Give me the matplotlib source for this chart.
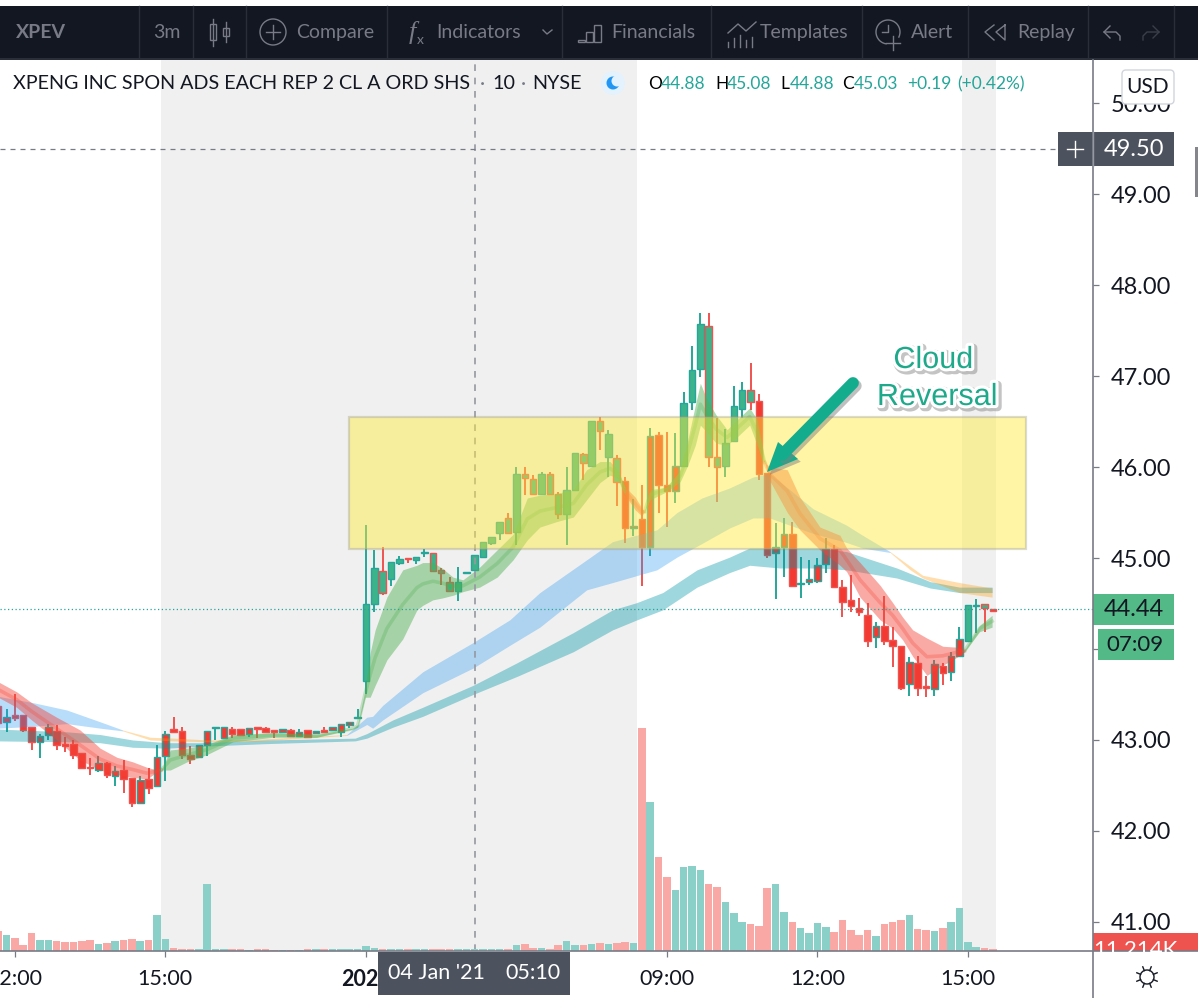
import matplotlib
matplotlib.use("Agg")
import matplotlib.pyplot as plt
import matplotlib.patheffects as pe
from matplotlib.patches import Rectangle, Circle, FancyBboxPatch, Polygon
import numpy as np

plt.rcParams['font.family'] = ['Lato', 'DejaVu Sans']

# candles, one per 10 minutes
opens = [43.37,43.20,43.27,43.27,43.14,42.98,43.06,43.10,42.96,42.96,42.86,42.70,42.67,42.75,42.60,42.67,42.58,42.31,42.57,42.49,
         42.82,43.12,43.10,42.84,42.81,42.94,43.13,43.02,43.12,43.12,43.07,43.14,43.13,43.10,43.09,43.11,43.04,43.11,43.08,43.11,
         43.11,43.09,43.17,43.24,43.65,44.49,44.86,44.77,44.95,45.00,44.98,45.05,45.06,44.87,44.74,44.64,44.83,44.87,45.01,45.17,
         45.27,45.44,45.29,45.92,45.87,45.70,45.92,45.70,45.48,45.75,46.14,46.01,46.51,46.11,46.10,45.85,45.33,45.43,45.12,46.35,
         45.80,45.74,46.01,46.71,47.08,47.55,46.11,46.01,46.29,46.64,46.85,46.73,45.93,45.06,45.12,45.26,44.71,44.74,44.75,44.93,
         45.10,44.68,44.54,44.45,44.37,44.13,44.25,44.10,44.03,43.62,43.85,43.59,43.56,43.81,43.75,43.92,44.09,44.47,44.49,44.44]
highs = [43.40,43.34,43.50,43.28,43.14,43.07,43.18,43.17,43.03,43.00,42.86,42.80,42.82,42.76,42.71,42.78,42.58,42.60,42.69,42.94,
         43.10,43.25,43.14,42.93,42.94,43.10,43.14,43.14,43.14,43.12,43.13,43.14,43.14,43.10,43.12,43.12,43.12,43.11,43.10,43.14,
         43.14,43.18,43.20,43.34,45.36,45.09,45.12,44.96,45.02,45.00,45.01,45.10,45.06,44.89,44.79,44.90,44.84,45.03,45.18,45.23,
         45.40,45.49,46.00,46.00,45.91,45.95,45.95,45.73,46.00,46.15,46.15,46.51,46.55,46.41,46.13,45.89,45.65,45.80,46.43,46.38,
         46.38,46.37,46.82,47.33,47.69,47.69,46.54,46.42,46.89,46.93,47.14,46.80,45.93,45.38,45.44,45.40,45.01,44.98,45.00,45.22,
         45.14,44.76,44.81,44.56,44.50,44.30,44.58,44.24,44.03,43.91,43.92,43.70,43.88,43.85,43.97,44.24,44.48,44.55,44.49,44.44]
lows = [43.18,43.09,43.21,43.09,42.89,42.80,43.00,42.89,42.87,42.79,42.69,42.61,42.65,42.58,42.49,42.42,42.26,42.31,42.41,42.49,
        42.55,43.09,42.79,42.74,42.81,42.82,43.00,43.01,43.02,43.05,43.03,43.02,43.09,43.02,43.09,43.04,43.04,43.02,43.07,43.08,
        43.11,43.03,43.13,43.24,43.50,44.41,44.59,44.69,44.92,44.95,44.93,45.01,44.86,44.70,44.63,44.53,44.83,44.87,45.01,45.14,
        45.20,45.27,45.14,45.69,45.70,45.70,45.70,45.43,45.14,45.75,45.86,46.01,46.19,45.89,45.57,45.17,45.24,44.69,45.02,45.50,
        45.34,45.60,46.01,46.63,46.99,46.00,45.62,45.89,46.29,46.54,46.63,45.86,45.00,44.55,44.79,44.68,44.56,44.70,44.73,44.84,
        44.67,44.35,44.41,44.36,44.02,44.01,44.04,43.80,43.55,43.48,43.48,43.47,43.48,43.60,43.65,43.92,44.09,44.18,44.19,44.41]
closes = [43.19,43.25,43.24,43.11,42.98,43.04,43.14,42.94,42.93,42.84,42.69,42.69,42.75,42.61,42.66,42.57,42.31,42.56,42.47,42.81,
          43.07,43.09,42.84,42.79,42.94,43.10,43.14,43.14,43.07,43.05,43.13,43.12,43.09,43.09,43.12,43.04,43.09,43.03,43.09,43.09,
          43.14,43.18,43.20,43.25,44.49,44.89,44.62,44.96,44.99,44.99,45.01,45.06,44.86,44.84,44.64,44.74,44.84,45.03,45.18,45.23,
          45.40,45.27,45.92,45.88,45.70,45.92,45.70,45.48,45.75,46.15,46.04,46.51,46.40,46.36,45.84,45.33,45.35,45.12,46.34,45.80,
          45.74,46.01,46.70,47.07,47.57,46.11,46.00,46.26,46.67,46.85,46.71,45.92,45.03,45.12,45.26,44.69,44.73,44.77,44.92,45.10,
          44.68,44.52,44.47,44.41,44.09,44.25,44.09,44.03,43.57,43.86,43.57,43.57,43.84,43.74,43.92,44.11,44.48,44.48,44.45,44.42]
# bars where the fill switches between red and green trend colours
fill_flips = [43, 75, 82, 91, 116, 119]

# volume in thousands
volumes = [100,80,65,30,90,55,55,50,45,45,50,55,35,40,50,55,60,50,55,180,60,
           15,10,10,10,335,10,10,10,8,5,10,10,5,5,5,5,10,8,8,8,10,10,8,25,15,
           8,10,10,10,8,10,8,8,8,10,8,8,8,8,8,8,
           30,35,15,15,10,30,50,30,30,35,40,
           35,40,45,40,1115,745,470,370,305,420,425,405,335,320,245,190,145,135,125,315,335,195,145,115,90,
           140,120,95,155,105,80,105,75,135,145,155,180,110,105,100,115,145,215,45,20,15,11]

# fast cloud, red then green at each flip
fast_x = [0,2.2,4.0,7.0,9.8,12.2,14.2,16.1,17.8,19.0,19.5,20.6,22.6,25.0,28.1,32.9,38.1,42.4,43.0,43.9,44.5,45.1,46.5,48.4,
          50.1,50.8,52.0,53.1,54.4,55.6,57.6,59.7,61.6,63.3,64.8,66.8,68.8,70.4,72.0,73.2,74.1,75.0,76.2,77.0,77.3,78.0,80.0,
          81.6,82.5,83.4,84.0,84.8,85.9,87.2,88.4,89.9,90.8,91.4,91.7,92.3,94.4,95.9,98.3,100.7,101.5,103.1,105.5,107.0,108.2,
          109.4,111.1,113.0,114.7,115.6,117.4,118.9]
fast_hi = [43.64,43.53,43.41,43.25,43.11,42.91,42.81,42.76,42.70,42.67,42.67,42.89,42.91,42.95,43.06,43.08,43.06,43.13,43.17,43.55,
           43.96,44.21,44.57,44.87,44.92,44.95,44.95,44.89,44.79,44.76,44.90,45.09,45.26,45.66,45.69,45.71,45.75,45.97,46.06,46.06,
           45.97,45.78,45.67,45.55,45.51,45.75,45.78,45.97,46.30,46.68,46.92,46.74,46.57,46.41,46.52,46.65,46.52,46.24,46.05,46.00,
           45.97,45.67,45.34,45.25,45.11,44.95,44.70,44.51,44.35,44.21,44.12,44.03,44.02,43.99,44.26,44.37]
fast_lo = [43.47,43.36,43.22,43.00,42.78,42.67,42.62,42.59,42.57,42.65,42.67,42.67,42.76,42.84,42.98,43.03,43.03,43.12,43.14,43.47,
           43.47,43.60,43.88,44.11,44.43,44.48,44.54,44.56,44.59,44.63,44.68,44.79,44.98,45.20,45.34,45.40,45.45,45.64,45.83,45.91,
           45.88,45.69,45.53,45.46,45.51,45.64,45.73,45.84,46.02,46.24,46.46,46.38,46.26,46.24,46.33,46.46,46.24,46.08,46.05,45.85,
           45.50,45.31,45.09,44.92,44.85,44.57,44.32,44.23,44.10,43.92,43.71,43.82,43.91,43.97,44.19,44.24]
fast_flips = [19.5, 75.0, 77.3, 91.7, 115.6]

# middle cloud, blue then orange at each flip
mid_x = [0,4.2,8.2,12.2,14.9,18.2,21.1,25.1,31.3,41.7,44.1,44.8,46.0,50.8,56.8,61.2,64.8,70.4,73.5,78.8,81.2,84.2,87.5,90.3,
         92.3,94.7,97.5,101.5,103.4,106.7,109.1,110.6,115.0,118.9]
mid_hi = [43.48,43.41,43.33,43.20,43.11,43.03,43.02,43.00,43.01,43.06,43.25,43.26,43.38,43.75,44.07,44.32,44.62,44.98,45.18,45.31,
          45.50,45.66,45.77,45.89,45.93,45.75,45.54,45.36,45.25,45.07,44.91,44.81,44.73,44.67]
mid_lo = [43.13,43.15,43.18,43.13,43.10,43.00,42.99,42.98,42.99,43.05,43.17,43.13,43.22,43.52,43.79,44.04,44.24,44.65,44.73,44.87,
          45.01,45.16,45.33,45.44,45.44,45.36,45.27,45.17,45.11,45.06,44.87,44.78,44.62,44.57]
mid_flips = [14.9, 41.7, 106.7]

# slow teal cloud
slow_x = [0,8.2,12.2,16.1,20.2,24.1,32.1,42.7,44.1,47.2,50.8,56.8,62.1,68.8,73.5,76.4,79.5,83.6,87.5,89.9,93.5,98.3,101.5,107.5,
          111.5,115.0,118.9]
slow_hi = [43.12,43.09,43.06,43.00,42.97,42.97,43.00,43.02,43.07,43.22,43.36,43.60,43.85,44.18,44.43,44.51,44.62,44.87,45.01,45.11,
           45.11,45.11,45.07,44.89,44.74,44.68,44.68]
slow_lo = [42.99,42.98,42.97,42.92,42.91,42.93,42.96,42.99,43.02,43.14,43.26,43.50,43.70,43.97,44.21,44.32,44.43,44.68,44.84,44.92,
           44.89,44.89,44.87,44.78,44.67,44.62,44.62]

price_ticks = [41, 42, 43, 44, 45, 46, 47, 48, 49, 50]
# the 44.00 label sits behind the countdown box in the picture
price_labels = ['41.00', '42.00', '43.00', '', '45.00', '46.00', '47.00', '48.00', '49.00', '50.00']
time_ticks = [2, 20, 44, 80, 98, 116]
time_labels = ['12:00', '15:00', '2021', '09:00', '12:00', '15:00']
sessions = [(19.45, 76.4), (115.3, 119.4)]
zone = (42, 123, 45.10, 46.55)
crosshair = (57, 49.50)
last_price = 44.44

GREEN = '#3db38b'
RED = '#f23a32'
UP_EDGE = '#26a69a'
DOWN_EDGE = '#ef5350'
TEAL_TEXT = '#26a69a'
TOOL = '#787b86'
DARK = '#131722'
LABEL = '#4c525e'

W, H = 1198, 998
fig = plt.figure(figsize=(W / 100, H / 100), dpi=100, facecolor='white')
pos = [0, (H - 951) / H, 1092.5 / W, (951 - 60) / H]
ax = fig.add_axes(pos, zorder=1)
ax.set_xlim(0.222, 130.91)
ax.set_ylim(40.681, 50.473)
for s in ax.spines.values():
    s.set_visible(False)

for a, b in sessions:
    ax.axvspan(a, b, color='#f0f0f0', lw=0, zorder=0)

x = np.arange(len(closes))
opens, highs, lows, closes = map(np.array, (opens, highs, lows, closes))
up = closes >= opens

# trend colour for the body
fill_up = np.zeros(len(x), dtype=bool)
state = False
last = 0
for f in fill_flips + [len(x)]:
    fill_up[last:f] = state
    state = not state
    last = f

edge = [UP_EDGE if u else DOWN_EDGE for u in up]
ax.vlines(x, lows, highs, colors=edge, lw=1.4, zorder=2)
ax.bar(x, np.maximum(np.abs(closes - opens), 0.015), bottom=np.minimum(opens, closes), width=0.78,
       color=[GREEN if f else RED for f in fill_up], edgecolor=edge, lw=1.0, zorder=2.1)


def cloud(xs, hi, lo, flips, colors, alpha, center=False):
    xs, hi, lo = np.array(xs), np.array(hi), np.array(lo)
    edges = [xs[0]] + flips + [xs[-1]]
    for k in range(len(edges) - 1):
        m = (xs >= edges[k]) & (xs <= edges[k + 1])
        c = colors[k % 2]
        ax.fill_between(xs[m], lo[m], hi[m], color=c, alpha=alpha, lw=0, zorder=3)
        if center:
            ax.plot(xs[m], (hi[m] + lo[m]) / 2, color=c, alpha=0.28, lw=2.6, zorder=4)


cloud(slow_x, slow_hi, slow_lo, [], ['#0097a7'], 0.38)
cloud(mid_x, mid_hi, mid_lo, mid_flips, ['#2196f3', '#ff9800'], 0.32)
cloud(fast_x, fast_hi, fast_lo, fast_flips, ['#f44336', '#4caf50'], 0.45, center=True)

ax.add_patch(Rectangle((zone[0], zone[2]), zone[1] - zone[0], zone[3] - zone[2], facecolor=(1, 0.92, 0.23, 0.46),
                       edgecolor=(0.6, 0.6, 0.55, 0.35), lw=1.6, zorder=6))

ax.axvline(crosshair[0], color='#9598a1', lw=1.2, ls=(0, (4, 4)), zorder=5)
ax.axhline(crosshair[1], color='#787b86', lw=0.9, ls=(0, (4, 4)), zorder=5)
ax.axhline(last_price, color=UP_EDGE, lw=0.9, ls=(0, (1, 2)), zorder=5)

ax.yaxis.tick_right()
ax.set_yticks(price_ticks)
ax.set_yticklabels(price_labels, fontsize=17, color='#131722')
ax.set_xticks(time_ticks)
ax.set_xticklabels(time_labels, fontsize=15.5, color='#131722')
ax.get_xticklabels()[2].set_fontweight('bold')
ax.tick_params(axis='y', length=4, width=0.9, color='#787b86', pad=9)
ax.tick_params(axis='x', length=4, width=0.9, color='#787b86', pad=9)

# volume on its own scale at the bottom
ax_vol = fig.add_axes(pos, sharex=ax, zorder=2, frameon=False)
ax_vol.set_ylim(0, 4455)
ax_vol.bar(x, volumes, width=0.9, color=['#8bd0c8' if u else '#f9a8a6' for u in up], lw=0)
ax_vol.axis('off')

# toolbar, price labels and annotation in pixels on top
top = fig.add_axes([0, 0, 1, 1], zorder=5, frameon=False)
top.set_xlim(0, W)
top.set_ylim(H, 0)
top.axis('off')

top.add_patch(Rectangle((0, 6), W, 53, color=DARK, lw=0))
top.add_patch(Rectangle((0, 58), W, 2, color='#2a2e39', lw=0))
for sx in [139, 193, 246, 387, 562, 711, 862, 968, 1088, 1174]:
    top.plot([sx, sx], [6, 58], color='#2a2e39', lw=1)

for tx, s, w in [(16, 'XPEV', 'bold'), (153, '3m', 'normal'), (296, 'Compare', 'normal'), (436, 'Indicators', 'normal'),
                 (611, 'Financials', 'normal'), (760, 'Templates', 'normal'), (911, 'Alert', 'normal'), (1017, 'Replay', 'normal')]:
    top.text(tx, 32, s, color=TOOL, fontsize=14, fontweight=w, va='center', ha='left')

# toolbar icons
top.plot([213, 213], [19, 46], color=TOOL, lw=1)
top.add_patch(Rectangle((210, 24), 6, 16, fc=DARK, ec=TOOL, lw=1))
top.plot([226, 226], [22, 42], color=TOOL, lw=1)
top.add_patch(Rectangle((223, 28), 6, 8, fc=DARK, ec=TOOL, lw=1))
top.add_patch(Circle((273, 32), 13, fc='none', ec=TOOL, lw=1))
top.plot([266, 280], [32, 32], color=TOOL, lw=1)
top.plot([273, 273], [25, 39], color=TOOL, lw=1)
top.text(412, 32, 'f', color=TOOL, fontsize=19, style='italic', family='Liberation Serif', va='center', ha='center')
top.text(420, 40, 'x', color=TOOL, fontsize=10, va='center', ha='center')
top.plot([543, 547, 552], [30, 34, 30], color=TOOL, lw=1)
for bx, by in [(578, 40), (586, 32), (594, 25)]:
    top.add_patch(Rectangle((bx, by), 7, 42 - by, fc='none', ec=TOOL, lw=1))
top.plot([728, 738, 746, 756], [33, 24, 31, 22], color=TOOL, lw=1)
for bx, by in [(728, 42), (734, 38), (740, 35), (746, 40), (752, 37)]:
    top.plot([bx, bx], [by, 47], color=TOOL, lw=1)
top.add_patch(Circle((888, 32), 12, fc='none', ec=TOOL, lw=1))
top.add_patch(Circle((893, 42), 7, fc=DARK, ec='none'))
top.plot([893, 893], [36, 50], color=TOOL, lw=1)
top.plot([886, 900], [43, 43], color=TOOL, lw=1)
top.plot([888, 888, 882], [25, 32, 32], color=TOOL, lw=1)
top.plot([994, 985, 994], [25, 32, 40], color=TOOL, lw=1)
top.plot([1005, 996, 1005, 1005], [25, 32, 40, 25], color=TOOL, lw=1)
top.plot([1110, 1104, 1110], [26, 32, 38], color=TOOL, lw=1)
top.plot([1104, 1116, 1120, 1120], [32, 32, 36, 40], color=TOOL, lw=1)
top.plot([1153, 1159, 1153], [26, 32, 38], color='#3a3e49', lw=1)
top.plot([1159, 1147, 1143, 1143], [32, 32, 36, 40], color='#3a3e49', lw=1)

# legend row
top.text(13, 83, 'XPENG INC SPON ADS EACH REP 2 CL A ORD SHS', color='#131722', fontsize=14.2, va='center', ha='left')
top.text(482, 83, '·', color=TOOL, fontsize=14, va='center', ha='center')
top.text(492, 83, '10', color='#131722', fontsize=14.2, va='center', ha='left')
top.text(523, 83, '·', color=TOOL, fontsize=14, va='center', ha='center')
top.text(532, 83, 'NYSE', color='#131722', fontsize=14.2, va='center', ha='left')
top.add_patch(Circle((613, 83), 12, fc='#e3f2fd', ec='none'))
top.add_patch(Circle((613, 83), 6.5, fc='#2196f3', ec='none'))
top.add_patch(Circle((617, 81), 5.5, fc='#e3f2fd', ec='none'))
for tx, s, c in [(648, 'O', 'k'), (661, '44.88', TEAL_TEXT), (715, 'H', 'k'), (727, '45.08', TEAL_TEXT), (780, 'L', 'k'), (790, '44.88', TEAL_TEXT),
                 (842, 'C', 'k'), (854, '45.03', TEAL_TEXT), (907, '+0.19', TEAL_TEXT), (957, '(+0.42%)', TEAL_TEXT)]:
    top.text(tx, 84, s, color=c, fontsize=12.5, va='center', ha='left')

# axis lines
top.plot([1092.5, 1092.5], [60, H], color='#787b86', lw=1.2)
top.plot([0, W], [951, 951], color='#787b86', lw=1.2)

top.add_patch(FancyBboxPatch((1124, 72), 48, 30, boxstyle='round,pad=2,rounding_size=4', fc='white', ec='#d1d4dc', lw=1))
top.text(1148, 87, 'USD', color='#131722', fontsize=15, va='center', ha='center')

top.add_patch(Rectangle((1058, 132), 116, 34, color=LABEL, lw=0))
top.plot([1067, 1083], [149, 149], color='white', lw=1)
top.plot([1075, 1075], [141, 157], color='white', lw=1)
top.plot([1092.5, 1092.5], [132, 166], color='#9598a1', lw=1)
top.text(1134, 149, '49.50', color='white', fontsize=17, va='center', ha='center')

top.add_patch(Rectangle((1093, 594), 81, 31, color='#53b987', lw=0))
top.text(1134, 610, '44.44', color='#131722', fontsize=17, va='center', ha='center')
top.add_patch(Rectangle((1098, 629), 76, 31, color='#53b987', lw=0))
top.text(1135, 645, '07:09', color='#131722', fontsize=16, va='center', ha='center')

red_box = Rectangle((1093, 933), 105, 18, color='#ef5350', lw=0)
top.add_patch(red_box)
vol_label = top.text(1135, 950, '11.214K', color='white', fontsize=16, va='center', ha='center')
vol_label.set_clip_path(red_box)

top.add_patch(Rectangle((1195, 147), 3, 50, color='#85858c', lw=0))

top.add_patch(Rectangle((377.5, 951.5), 192.5, 43.5, color=LABEL, lw=0))
top.text(388, 973, "04 Jan '21", color='white', fontsize=15.5, va='center', ha='left')
top.text(505, 973, '05:10', color='white', fontsize=15.5, va='center', ha='left')

# sun icon
top.add_patch(Circle((1147, 977), 7, fc='none', ec='#131722', lw=1))
for ang in np.arange(0, 360, 45):
    r = np.radians(ang + 22.5)
    top.plot([1147 + 7 * np.cos(r), 1147 + 11 * np.cos(r)], [977 + 7 * np.sin(r), 977 + 11 * np.sin(r)], color='#131722', lw=1)

# arrow and note
shadow = [pe.SimpleLineShadow(offset=(2, -2), shadow_color='#808080', alpha=0.5), pe.Normal()]
top.plot([853, 782], [383, 455], color='#13ac8d', lw=8.5, solid_capstyle='round', path_effects=shadow)
top.add_patch(Polygon([(767, 472), (778, 442), (798, 459)], closed=True, color='#13ac8d', lw=0,
                      path_effects=[pe.SimplePatchShadow(offset=(2, -2), shadow_rgbFace='#808080', alpha=0.5), pe.Normal()]))
note_fx = [pe.Stroke(linewidth=6, foreground='#8a8a8a', alpha=0.5, offset=(1.5, -1.5)),
           pe.Stroke(linewidth=4.5, foreground='white'), pe.Normal()]
top.text(933, 360, 'Cloud', color='#1fa98b', fontsize=22, family='Liberation Sans', va='center', ha='center', path_effects=note_fx)
top.text(937, 397, 'Reversal', color='#1fa98b', fontsize=22, family='Liberation Sans', va='center', ha='center', path_effects=note_fx)

fig.savefig('out.png', dpi=100)
